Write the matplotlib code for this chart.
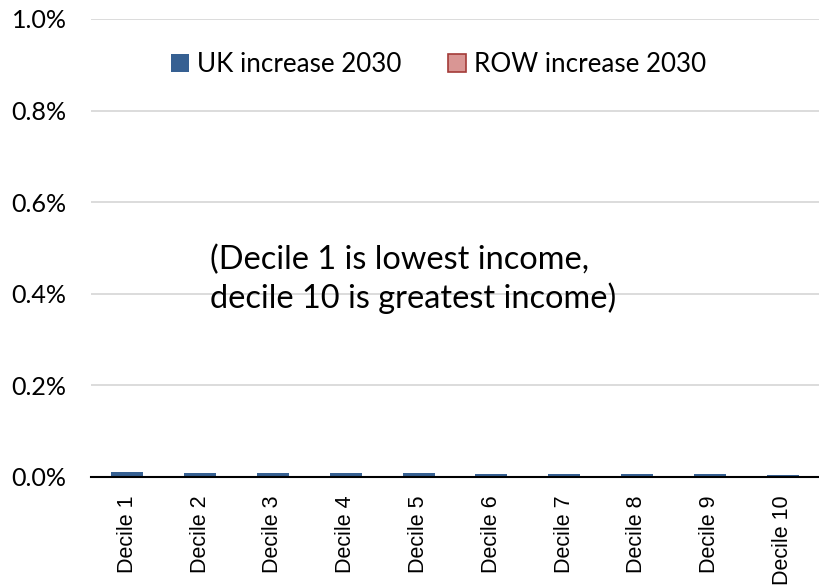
import numpy as np
import matplotlib.pyplot as plt
from matplotlib.ticker import PercentFormatter

# ---------------- Data ----------------
deciles = ["Decile 1", "Decile 2", "Decile 3", "Decile 4", "Decile 5",
           "Decile 6", "Decile 7", "Decile 8", "Decile 9", "Decile 10"]
uk_increase = [0.011, 0.009, 0.009, 0.009, 0.009, 0.007, 0.007, 0.007, 0.007, 0.004]
row_increase = [0.0, 0.0, 0.0, 0.0, 0.0, 0.0, 0.0, 0.0, 0.0, 0.0]
y_ticks = [0.0, 0.2, 0.4, 0.6, 0.8, 1.0]

calibri_like = "Lato"

# ---------------- Figure ----------------
fig = plt.figure(figsize=(8.19, 5.86), dpi=100)
ax = fig.add_axes([91 / 819, 109 / 586, 728 / 819, 458 / 586])

x = np.arange(len(deciles))
ax.bar(x, row_increase, width=0.44, color="#d99694", edgecolor="#a33b38",
       linewidth=1.2, label="ROW increase 2030", zorder=2)
ax.bar(x, uk_increase, width=0.44, color="#366092", label="UK increase 2030", zorder=3)

ax.set_xlim(-0.5, len(deciles) - 0.5)
ax.set_ylim(0, 1.0)
ax.set_yticks(y_ticks)
ax.yaxis.set_major_formatter(PercentFormatter(decimals=1))
ax.grid(axis="y", color="#d9d9d9", linewidth=1.3, zorder=0)
ax.set_axisbelow(True)

for s in ["top", "right", "left"]:
    ax.spines[s].set_visible(False)
ax.spines["bottom"].set_color("black")
ax.spines["bottom"].set_linewidth(1.5)
ax.spines["bottom"].set_zorder(4)

ax.tick_params(axis="both", length=0)
ax.tick_params(axis="y", pad=17.5)
ax.tick_params(axis="x", pad=13)
for lab in ax.get_yticklabels():
    lab.set_fontfamily(calibri_like)
    lab.set_fontsize(18.1)

ax.set_xticks(x)
ax.set_xticklabels(deciles, rotation=90, va="top", ha="center",
                   fontfamily="Liberation Sans", fontsize=15.5)

# ---------------- Legend ----------------
handles, labels = ax.get_legend_handles_labels()
leg = ax.legend(handles[::-1], labels[::-1], loc="center",
                bbox_to_anchor=(0.477, 0.9), ncol=2, frameon=False,
                prop={"family": calibri_like, "size": 18.7},
                handlelength=0.7, handleheight=0.7, handletextpad=0.3,
                columnspacing=1.8)

# ---------------- Note ----------------
ax.text((210 - 91) / 728, 0.432,
        "(Decile 1 is lowest income,\ndecile 10 is greatest income)",
        transform=ax.transAxes, fontfamily=calibri_like, fontsize=23.4,
        ha="left", va="center", linespacing=1.3)

fig.savefig("out.png", dpi=100)
